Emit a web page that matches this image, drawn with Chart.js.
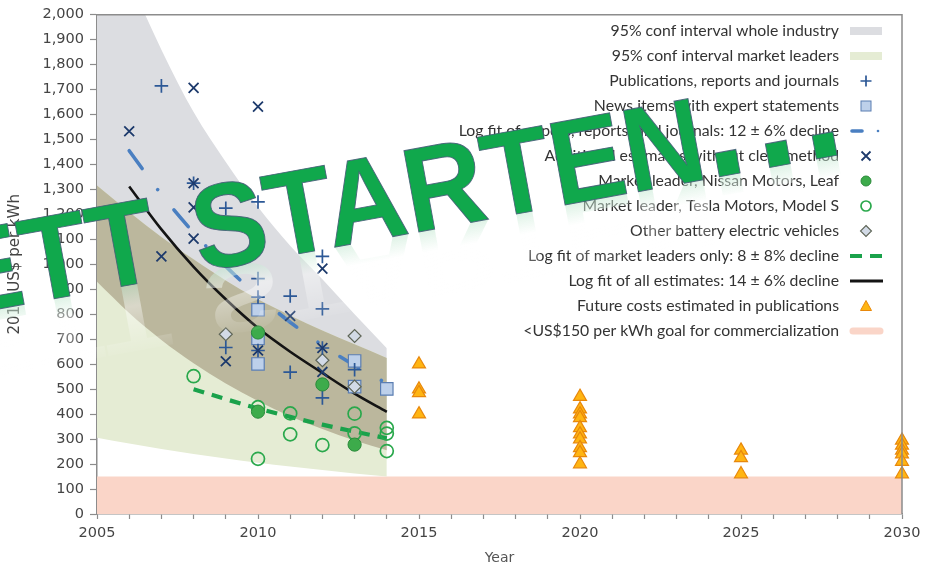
<!DOCTYPE html>
<html><head><meta charset="utf-8">
<script src="https://cdn.jsdelivr.net/npm/chart.js@4.4.1/dist/chart.umd.min.js"></script>
<style>html,body{margin:0;padding:0;background:#fff}#wrap{width:930px;height:567px}</style>
</head><body><div id="wrap"><canvas id="c" width="930" height="567"></canvas></div>
<script>
// ---- confidence bands (2005-2014) ----
const bandYears = [2005,2006,2007,2008,2009,2010,2011,2012,2013,2014];
const grayUpper = [2500,2150,1860,1610,1410,1230,1075,940,800,664];
const grayLower = [930,805,697,604,523,453,392,340,294,255];
const greenUpper = [1316,1210,1110,1020,935,860,795,735,680,625];
const greenLower = [305,282,260,240,222,205,190,176,162,150];
// ---- fits ----
const fitYears = [2006,2007,2008,2009,2010,2011,2012,2013,2014];
const allFit = [1312,1140,990,860,745,650,565,482,409];
const pubFit = [1455,1280,1127,992,873,768,676,595,523];
const leaderFitYears = [2008,2009,2010,2011,2012,2013,2014];
const leaderFit = [500,460,423,389,358,330,303];
// ---- points ----
const pubYears = [2007,2008,2009,2009,2010,2010,2010,2010,2011,2011,2012,2012,2012,2012,2013];
const pubValues = [1715,1325,1225,667,1250,943,869,655,873,568,1032,822,665,465,578];
const addYears = [2006,2007,2008,2008,2008,2008,2009,2010,2010,2011,2012,2012,2012];
const addValues = [1533,1032,1707,1325,1228,1103,612,1632,655,793,983,665,569];
const newsYears = [2010,2010,2010,2013,2013,2014];
const newsValues = [818,703,601,613,510,501];
const leafYears = [2010,2010,2012,2013];
const leafValues = [727,410,519,278];
const teslaYears = [2008,2010,2010,2011,2011,2012,2013,2013,2014,2014,2014];
const teslaValues = [552,428,221,403,319,276,402,323,345,322,252];
const otherYears = [2009,2012,2013,2013];
const otherValues = [720,616,713,510];
const futureYears = [2015,2015,2015,2015,2020,2020,2020,2020,2020,2020,2020,2020,2020,2020,2025,2025,2025,2030,2030,2030,2030,2030,2030];
const futureValues = [600,500,485,400,470,420,400,385,345,320,300,265,245,200,255,225,160,295,275,255,240,210,160];
const goalYears = [2005,2030];
const goalValues = [150,150];
// ---- text ----
const legendLabels = [
  '95% conf interval whole industry',
  '95% conf interval market leaders',
  'Publications, reports and journals',
  'News items with expert statements',
  'Log fit of papers, reports, and journals: 12 \u00b1 6% decline',
  'Additional estimates without clear method',
  'Market leader, Nissan Motors, Leaf',
  'Market leader, Tesla Motors, Model S',
  'Other battery electric vehicles',
  'Log fit of market leaders only: 8 \u00b1 8% decline',
  'Log fit of all estimates: 14 \u00b1 6% decline',
  'Future costs estimated in publications',
  '<US$150 per kWh goal for commercialization'
];
const legendSymbols = ['grayRect','greenRect','plus','square','dashdot','cross','leaf','tesla','diamond','greendash','blackline','triangle','pink'];
const xTitle = 'Year';
const yTitle = '2014 US$ per kWh';
const wmLead = 'ETT';
const wmWord = 'STARTEN';
const wmDots = '...';

const C = {
  gray:'#dcdde1', green:'#e5ecd4', olive:'#bbb79d', pink:'#fad5c8',
  plus:'#2c5896', cross:'#1d3a6c', newsFill:'#bdd0ea', newsBorder:'#5b7eb2',
  leafFill:'#3dab4b', leafBorder:'#2a8a3a', tesla:'#2aa84c',
  diaFill:'#d2dae6', diaBorder:'#5f6658', triFill:'#ffb512', triBorder:'#e8880c',
  black:'#141414', blue:'#4a7fc1', gdash:'#1aa24b'
};

const pts = (xs, ys) => xs.map((x, i) => ({x, y: ys[i]}));

const band = (data, extra) => Object.assign({
  type:'line', data, borderWidth:0, pointRadius:0, pointHoverRadius:0,
  cubicInterpolationMode:'monotone', showLine:true
}, extra);

const datasets = [
  band(pts(bandYears, grayUpper), {label:'grayUpper', fill:1, backgroundColor:C.gray, order:103}),
  band(pts(bandYears, grayLower), {label:'grayLower', fill:false, order:104}),
  band(pts(bandYears, greenUpper), {label:'greenUpper', fill:{target:1, above:C.olive, below:C.olive}, order:101}),
  band(pts(bandYears, greenLower), {label:'greenLower', fill:{target:2, above:C.green, below:C.green}, order:102}),
  band(pts(goalYears, goalValues), {label:'goal', fill:'origin', backgroundColor:C.pink, cubicInterpolationMode:'default', tension:0, order:105}),
  {type:'line', label:'allFit', data:pts(fitYears, allFit), borderColor:C.black, borderWidth:2.6, pointRadius:0, cubicInterpolationMode:'monotone', fill:false, order:20},
  {type:'line', label:'pubFit', data:pts(fitYears, pubFit), borderColor:C.blue, borderWidth:3.6, borderDash:[22,26,0.1,26], borderCapStyle:'round', pointRadius:0, cubicInterpolationMode:'monotone', fill:false, order:21},
  {type:'line', label:'leaderFit', data:pts(leaderFitYears, leaderFit), borderColor:C.gdash, borderWidth:4.2, borderDash:[11,8], pointRadius:0, cubicInterpolationMode:'monotone', fill:false, order:19},
  {type:'scatter', label:'news', data:pts(newsYears, newsValues), pointStyle:'rect', pointRadius:8.8, backgroundColor:C.newsFill, borderColor:C.newsBorder, borderWidth:1.2, order:10},
  {type:'scatter', label:'other', data:pts(otherYears, otherValues), pointStyle:'rectRot', pointRadius:6.5, backgroundColor:C.diaFill, borderColor:C.diaBorder, borderWidth:1.2, order:9},
  {type:'scatter', label:'pub', data:pts(pubYears, pubValues), pointStyle:'cross', pointRadius:6.8, borderColor:C.plus, backgroundColor:C.plus, borderWidth:1.7, order:8},
  {type:'scatter', label:'add', data:pts(addYears, addValues), pointStyle:'crossRot', pointRadius:7, borderColor:C.cross, backgroundColor:C.cross, borderWidth:1.8, order:7},
  {type:'scatter', label:'tesla', data:pts(teslaYears, teslaValues), pointStyle:'circle', pointRadius:6.5, backgroundColor:'rgba(0,0,0,0)', borderColor:C.tesla, borderWidth:1.7, order:6},
  {type:'scatter', label:'leaf', data:pts(leafYears, leafValues), pointStyle:'circle', pointRadius:6.6, backgroundColor:C.leafFill, borderColor:C.leafBorder, borderWidth:1, order:5},
  {type:'scatter', label:'future', data:pts(futureYears, futureValues), pointStyle:'triangle', pointRadius:7.5, backgroundColor:C.triFill, borderColor:C.triBorder, borderWidth:1.2, order:4, clip:false}
];

function drawSym(ctx, type, x, y) {
  ctx.save();
  ctx.lineCap = 'butt';
  switch (type) {
    case 'grayRect': ctx.fillStyle = C.gray; ctx.fillRect(850, y-4, 32, 8); break;
    case 'greenRect': ctx.fillStyle = C.green; ctx.fillRect(850, y-4, 32, 8); break;
    case 'plus': ctx.strokeStyle = C.plus; ctx.lineWidth = 1.7; ctx.beginPath(); ctx.moveTo(x-5.5,y); ctx.lineTo(x+5.5,y); ctx.moveTo(x,y-5.5); ctx.lineTo(x,y+5.5); ctx.stroke(); break;
    case 'square': ctx.fillStyle = C.newsFill; ctx.strokeStyle = C.newsBorder; ctx.lineWidth = 1; ctx.fillRect(x-5,y-5,10,10); ctx.strokeRect(x-5,y-5,10,10); break;
    case 'dashdot': ctx.strokeStyle = C.blue; ctx.lineWidth = 3.6; ctx.lineCap='round'; ctx.beginPath(); ctx.moveTo(852,y); ctx.lineTo(862,y); ctx.stroke(); ctx.beginPath(); ctx.arc(878,y,1.3,0,Math.PI*2); ctx.fillStyle=C.blue; ctx.fill(); break;
    case 'cross': ctx.strokeStyle = C.cross; ctx.lineWidth = 1.8; ctx.beginPath(); ctx.moveTo(x-4.5,y-4.5); ctx.lineTo(x+4.5,y+4.5); ctx.moveTo(x+4.5,y-4.5); ctx.lineTo(x-4.5,y+4.5); ctx.stroke(); break;
    case 'leaf': ctx.fillStyle = C.leafFill; ctx.strokeStyle = C.leafBorder; ctx.lineWidth = 1; ctx.beginPath(); ctx.arc(x,y,5,0,Math.PI*2); ctx.fill(); ctx.stroke(); break;
    case 'tesla': ctx.strokeStyle = C.tesla; ctx.lineWidth = 1.7; ctx.beginPath(); ctx.arc(x,y,5,0,Math.PI*2); ctx.stroke(); break;
    case 'diamond': ctx.fillStyle = C.diaFill; ctx.strokeStyle = C.diaBorder; ctx.lineWidth = 1.1; ctx.beginPath(); ctx.moveTo(x,y-5.5); ctx.lineTo(x+5.5,y); ctx.lineTo(x,y+5.5); ctx.lineTo(x-5.5,y); ctx.closePath(); ctx.fill(); ctx.stroke(); break;
    case 'greendash': ctx.strokeStyle = C.gdash; ctx.lineWidth = 4.2; ctx.beginPath(); ctx.moveTo(850,y); ctx.lineTo(862,y); ctx.moveTo(870,y); ctx.lineTo(882,y); ctx.stroke(); break;
    case 'blackline': ctx.strokeStyle = C.black; ctx.lineWidth = 2.8; ctx.beginPath(); ctx.moveTo(850,y); ctx.lineTo(883,y); ctx.stroke(); break;
    case 'triangle': ctx.fillStyle = C.triFill; ctx.strokeStyle = C.triBorder; ctx.lineWidth = 1; ctx.beginPath(); ctx.moveTo(x,y-5.5); ctx.lineTo(x+5.5,y+4.5); ctx.lineTo(x-5.5,y+4.5); ctx.closePath(); ctx.fill(); ctx.stroke(); break;
    case 'pink': ctx.strokeStyle = C.pink; ctx.lineWidth = 7; ctx.lineCap='round'; ctx.beginPath(); ctx.moveTo(853,y); ctx.lineTo(880,y); ctx.stroke(); break;
  }
  ctx.restore();
}

// watermark text pieces (in the rotated, horizontally condensed frame)
function wmPieces(ctx, stroke) {
  const draw = (t, x, font, align) => {
    ctx.font = font; ctx.textAlign = align;
    ctx.fillText(t, x, 0);
    if (stroke) ctx.strokeText(t, x, 0);
  };
  const big = 'bold 120px "Liberation Sans"';
  const dotFont = 'bold 160px "Liberation Sans"';
  draw(wmLead, -41, big, 'right');
  draw(wmWord, 0, big, 'left');
  const dotX = [557, 612, 663];
  for (let i = 0; i < wmDots.length; i++) draw(wmDots[i], dotX[i], dotFont, 'left');
}

const framePlugin = {
  id:'frameLegend',
  afterDatasetsDraw(chart) {
    const {ctx, chartArea:a} = chart;
    ctx.save();
    ctx.strokeStyle = '#8c8c8c'; ctx.lineWidth = 1.5;
    ctx.beginPath(); ctx.moveTo(a.left, a.top); ctx.lineTo(a.right, a.top); ctx.lineTo(a.right, a.bottom); ctx.stroke();
    ctx.font = '15.8px Lato';
    ctx.fillStyle = '#333';
    ctx.textAlign = 'right'; ctx.textBaseline = 'middle';
    legendLabels.forEach((t, i) => {
      const y = 31 + 25 * i;
      ctx.fillText(t, 839, y);
      drawSym(ctx, legendSymbols[i], 866, y);
    });
    ctx.restore();
  },
  afterDraw(chart) {
    const ctx = chart.ctx;
    ctx.save();
    ctx.translate(200, 272);
    ctx.rotate(-10.4 * Math.PI / 180);
    ctx.scale(0.93, 1);
    ctx.textBaseline = 'alphabetic';
    // soft reflection
    ctx.save();
    ctx.scale(1, -0.8);
    const g = ctx.createLinearGradient(0, 0, 0, -90);
    g.addColorStop(0, 'rgba(190,230,205,0.5)');
    g.addColorStop(0.3, 'rgba(255,255,255,0.45)');
    g.addColorStop(1, 'rgba(255,255,255,0)');
    ctx.fillStyle = g;
    wmPieces(ctx, false);
    ctx.restore();
    ctx.fillStyle = '#10a84c';
    ctx.strokeStyle = 'rgba(70,95,120,0.9)';
    ctx.lineWidth = 1;
    wmPieces(ctx, true);
    ctx.restore();
  }
};

new Chart(document.getElementById('c'), {
  type:'scatter',
  data:{datasets},
  options:{
    responsive:false, animation:false, devicePixelRatio:1,
    layout:{padding:{top:14, right:28, left:0, bottom:0}},
    plugins:{legend:{display:false}, tooltip:{enabled:false}},
    scales:{
      x:{type:'linear', min:2005, max:2030,
        ticks:{stepSize:1, autoSkip:false, maxRotation:0, color:'#444', padding:6,
          font:{family:'DejaVu Sans', size:14.5},
          callback:(v) => (v % 5 === 0 ? String(v) : '')},
        grid:{drawOnChartArea:false, tickLength:5, color:'#8c8c8c', tickWidth:1.2},
        border:{color:'#8c8c8c', width:1.5},
        title:{display:true, text:xTitle, color:'#555', font:{family:'DejaVu Sans', size:14}, padding:{top:0, bottom:0}},
        afterFit:(s) => { s.height = 53; }
      },
      y:{type:'linear', min:0, max:2000,
        ticks:{stepSize:100, autoSkip:false, color:'#444', padding:6,
          font:{family:'DejaVu Sans', size:14.5},
          callback:(v) => v.toLocaleString('en-US')},
        grid:{drawOnChartArea:false, tickLength:7, color:'#8c8c8c', tickWidth:1.2},
        border:{color:'#8c8c8c', width:1.5},
        title:{display:true, text:yTitle, color:'#444', font:{family:'DejaVu Sans', size:15}, padding:{top:6, bottom:0}},
        afterFit:(s) => { s.width = 97; }
      }
    }
  },
  plugins:[framePlugin]
});
</script>
</body></html>
